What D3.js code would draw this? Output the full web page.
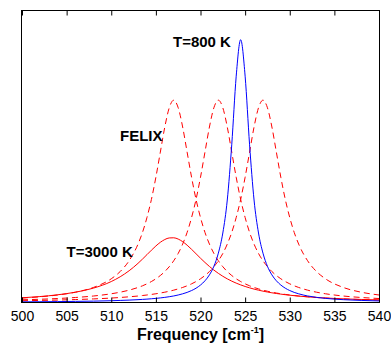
<!DOCTYPE html>
<html>
<head>
<meta charset="utf-8">
<script src="https://cdn.jsdelivr.net/npm/d3@7"></script>
<style>
  body { margin: 0; background: #fff; }
  svg text { font-family: "Liberation Sans", Arial, Helvetica, sans-serif; }
</style>
</head>
<body>
<div class="graphics"></div>
<script>
// frecuencias (cm-1) donde lei los valores de cada curva
var freq = [500,502,504,506,508,510,511,512,
    513,513.5,514,514.5,515,515.5,516,516.5,517,517.5,518,518.5,519,519.5,520,520.5,
    521,521.5,522,522.5,523,523.5,524,524.5,525,525.5,526,526.5,527,527.5,528,528.5,
    529,529.5,530,530.5,531,
    532,533,534,536,538,540];

// T=800 K (azul)
var t800 = [0.0022,0.0026,0.0031,0.0038,0.0047,0.0061,0.0071,0.0082,
    0.0097,0.0106,0.0116,0.0128,0.0141,0.0157,0.0176,0.0198,0.0224,0.0257,0.0297,0.0346,0.0409,0.049,0.0598,0.0743,
    0.0946,0.124,0.169,0.238,0.351,0.54,0.775,0.90,0.775,0.54,0.351,0.238,0.169,0.124,0.0946,0.0743,
    0.0598,0.049,0.0409,0.0346,0.0297,
    0.0224,0.0176,0.0141,0.0097,0.0071,0.0054];

// T=3000 K (rojo solido)
var t3000 = [0.0161,0.0203,0.0264,0.0354,0.0492,0.0718,0.0881,0.1087,
    0.1342,0.1487,0.1638,0.1791,0.1936,0.2062,0.2157,0.2211,0.2216,0.2172,0.2084,0.1963,0.1821,0.1669,0.1517,0.1371,
    0.1234,0.111,0.0998,0.0898,0.081,0.0732,0.0663,0.0603,0.0549,0.0502,0.0459,0.0422,0.0389,0.0359,0.0332,0.0308,
    0.0287,0.0267,0.025,0.0234,0.0219,
    0.0194,0.0172,0.0154,0.0125,0.0104,0.0088];

// FELIX, tres picos (rojo punteado)
var felix517 = [0.0152,0.0195,0.0257,0.0353,0.0515,0.0812,0.106,0.143,
    0.200,0.240,0.291,0.353,0.429,0.515,0.601,0.667,0.693,0.667,0.601,0.515,0.429,0.353,0.291,0.240,
    0.200,0.168,0.143,0.1226,0.106,0.0924,0.0812,0.0718,0.0639,0.0572,0.0515,0.0466,0.0423,0.0386,0.0353,0.0325,
    0.0299,0.0277,0.0257,0.0239,0.0222,
    0.0195,0.0172,0.0152,0.0123,0.0101,0.0084];

var felix522 = [0.0092,0.0111,0.0136,0.0172,0.0222,0.0299,0.0353,0.0423,
    0.0515,0.0572,0.0639,0.0718,0.0812,0.0924,0.106,0.1226,0.143,0.168,0.200,0.240,0.291,0.353,0.429,0.515,
    0.601,0.667,0.693,0.667,0.601,0.515,0.429,0.353,0.291,0.240,0.200,0.168,0.143,0.1226,0.106,0.0924,
    0.0812,0.0718,0.0639,0.0572,0.0515,
    0.0423,0.0353,0.0299,0.0222,0.0172,0.0136];

var felix527 = [0.0061,0.0071,0.0084,0.0101,0.0123,0.0152,0.0172,0.0195,
    0.0222,0.0239,0.0257,0.0277,0.0299,0.0325,0.0353,0.0386,0.0423,0.0466,0.0515,0.0572,0.0639,0.0718,0.0812,0.0924,
    0.106,0.1226,0.143,0.168,0.200,0.240,0.291,0.353,0.429,0.515,0.601,0.667,0.693,0.667,0.601,0.515,
    0.429,0.353,0.291,0.240,0.200,
    0.143,0.106,0.0812,0.0515,0.0353,0.0257];

var xTicks = [500,505,510,515,520,525,530,535,540];

var w = 391, h = 343;
// ojo: "top" es global del navegador, por eso los nombres con p
var pLeft = 22, pRight = 379, pTop = 10.5, pBottom = 302.5;

var x = d3.scaleLinear().domain([500,540]).range([pLeft,pRight]);
var y = d3.scaleLinear().domain([0,1]).range([pBottom,pTop]);

var svg = d3.select('.graphics')
    .append('svg')
    .attr('width', w)
    .attr('height', h);

var line = d3.line()
    .x(function(d){ return x(d[0]); })
    .y(function(d){ return y(d[1]); })
    .curve(d3.curveMonotoneX);

function serie(vals){
    return freq.map(function(f,i){ return [f, vals[i]]; });
}

// las curvas punteadas primero, luego las solidas
[felix517, felix522, felix527].forEach(function(v){
    svg.append('path')
        .attr('d', line(serie(v)))
        .attr('fill','none')
        .attr('stroke','#ff0000')
        .attr('stroke-width',1)
        .attr('stroke-dasharray','6,4');
});

svg.append('path')
    .attr('d', line(serie(t3000)))
    .attr('fill','none')
    .attr('stroke','#ff0000')
    .attr('stroke-width',1);

svg.append('path')
    .attr('d', line(serie(t800)))
    .attr('fill','none')
    .attr('stroke','#0000ff')
    .attr('stroke-width',1);

// ejes: ticks hacia adentro, arriba y abajo
var xAxis = d3.axisBottom(x).tickValues(xTicks).tickSizeInner(-5).tickSizeOuter(0).tickPadding(9);
var gx = svg.append('g')
    .attr('transform','translate(0,' + pBottom + ')')
    .call(xAxis);
gx.select('.domain').remove();
gx.selectAll('text').attr('font-size',14).attr('fill','#000')
    .style('font-family','"Liberation Sans", Arial, sans-serif');

var gTop = svg.append('g')
    .attr('transform','translate(0,' + pTop + ')')
    .call(d3.axisTop(x).tickValues(xTicks).tickSizeInner(-5).tickSizeOuter(0).tickFormat(''));
gTop.select('.domain').remove();

// caja del grafico
svg.append('rect')
    .attr('x', pLeft - 0.5)
    .attr('y', pTop)
    .attr('width', pRight - pLeft + 1)
    .attr('height', pBottom - pTop)
    .attr('fill','none')
    .attr('stroke','#000')
    .attr('stroke-width',1);

// titulo del eje x con superindice
var lab = svg.append('text')
    .attr('x', (pLeft + pRight) / 2)
    .attr('y', 340)
    .attr('text-anchor','middle')
    .attr('font-size',16)
    .attr('font-weight','bold');
lab.append('tspan').text('Frequency [cm');
lab.append('tspan').attr('font-size',9).attr('dy',-7).text('-1');
lab.append('tspan').attr('dy',7).text(']');

// anotaciones
var notas = [
    {t:'T=800 K', x:173, y:46.5},
    {t:'FELIX', x:120, y:141},
    {t:'T=3000 K', x:66.5, y:256.5}
];
svg.selectAll('.nota')
    .data(notas)
    .enter()
    .append('text')
    .attr('class','nota')
    .attr('x', function(d){ return d.x; })
    .attr('y', function(d){ return d.y; })
    .attr('font-size',15)
    .attr('font-weight','bold')
    .text(function(d){ return d.t; });
</script>
</body>
</html>
